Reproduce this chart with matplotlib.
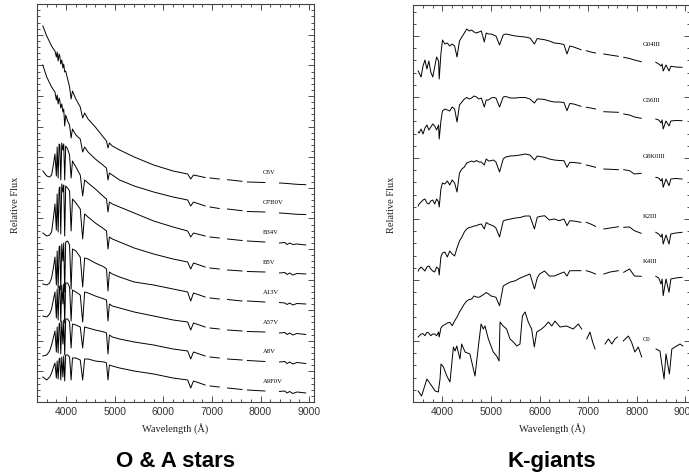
import numpy as np
import matplotlib
matplotlib.use("Agg")
import matplotlib.pyplot as plt
from matplotlib.ticker import MultipleLocator, NullFormatter

nan = np.nan

# ---- O & A stars: shared wavelength grid (nan = gap in the data) ----
LAM_OA = [3520, 3600, 3660, 3700, 3740, 3770,
          3798, 3815, 3835, 3855, 3870, 3889, 3910, 3933, 3950, 3970, 3990,
          4030, 4070, 4102, 4130, 4200, 4290, 4340, 4380, 4450,
          4600, 4780, 4830, 4861, 4890, 4950, 5100, 5400, 5800, 6200, 6500, 6563, 6620,
          6860, nan, 6960, 7150, nan, 7320, 7620, nan, 7730, 8090, nan,
          8390, 8500, 8545, 8600, 8665, 8750, 8930]

O5V = [376, 366, 360, 356, 353, 351,
       345, 350, 341, 348, 346, 338, 342, 334, 338, 330, 331,
       323, 315, 303, 311, 303, 295, 284, 289, 283,
       275, 264, 261, 254, 259, 256, 252, 245, 237, 231, 228, 223, 227,
       224.5, nan, 224, 223, nan, 222.3, 220.7, nan, 220, 219.5, nan,
       219, 218.7, 218.5, 218.3, 218, 217.7, 217.3]
O7B0V = [337, 325, 319, 315, 312, 310,
         302, 307, 298, 304, 301, 294, 298, 290, 293, 276, 287,
         281, 277, 264, 273, 267, 263, 250, 255, 250,
         243, 236, 234, 222, 229, 227, 222, 216, 210, 205, 202, 196, 200,
         196, nan, 195, 193.5, nan, 193, 191.3, nan, 190.5, 190, nan,
         189, 188.7, 188.5, 188.3, 188, 187.7, 187.5]
B34V = [231, 226, 225, 227, 238, 248,
        226, 255, 224, 258, 257, 222, 259, 252, 258, 222, 256,
        253, 247, 224, 241, 235, 227, 206, 222, 219,
        213, 205, 203, 190, 200, 198, 195, 189, 181, 175, 171, 165, 169,
        166, nan, 165, 164, nan, 163, 161.5, nan, 161, 160, nan,
        159, 159.5, 157.5, 159, 157.5, 158, 157]
B5V = [169, 166, 167, 170, 185, 198,
       172, 208, 170, 213, 215, 168, 218, 210, 217, 166, 216,
       214, 211, 171, 203, 199, 193, 163, 188, 185,
       179, 173, 171, 153, 165, 163, 160, 154, 148, 143, 140, 133, 139,
       135, nan, 134, 133, nan, 132, 131, nan, 130.5, 130, nan,
       129, 129.5, 127.5, 129, 127, 128.5, 128]
A13V = [118, 117, 119, 124, 135, 145,
        117, 151, 114, 155, 156, 112, 158, 141, 159, 110, 160,
        161, 157, 113, 153, 151, 145, 115, 144, 143,
        139, 135, 133, 111, 130, 128, 125, 120, 117, 113, 110, 101, 109,
        105, nan, 104, 103, nan, 102.5, 101, nan, 101, 100, nan,
        99.5, 99, 97.5, 99, 97, 98.5, 98]
A57V = [86, 85, 88, 93, 103, 110,
        84, 113, 82, 115, 116, 80, 117, 98, 118, 79, 119,
        119, 115, 81, 112, 110, 107, 80, 110, 109,
        106, 103, 102, 81, 98, 96, 94, 90, 86, 82, 80, 72, 79,
        75, nan, 74, 73, nan, 72, 71, nan, 70.5, 70, nan,
        69, 69.5, 67.5, 69, 67, 68.5, 67.5]
A8V = [46, 47, 51, 57, 65, 71,
       50, 75, 49, 78, 79, 48, 81, 58, 82, 47, 83,
       83, 80, 54, 78, 77, 75, 54, 75, 74,
       72, 70, 69, 48, 67, 65, 63, 60, 57, 53, 51, 43, 50,
       46, nan, 45, 44, nan, 43, 42, nan, 41.5, 40.5, nan,
       40, 40.5, 38.5, 40, 38, 39.5, 38.5]
A9F0V = [25, 22, 25, 29, 35, 39,
         24, 41, 23, 43, 44, 22, 45, 25, 46, 21, 47,
         47, 45, 22, 44, 44, 42, 22, 43, 43,
         41, 40, 39, 22, 37, 36, 34, 31, 28, 24, 22, 14, 21,
         17, nan, 16, 15, nan, 14, 12.5, nan, 12, 11, nan,
         10.5, 11, 9, 10.5, 8.5, 10, 9]

OA_NAMES = ["O5V", "O7B0V", "B34V", "B5V", "A13V", "A57V", "A8V", "A9F0V"]
OA_FLUX = [O5V, O7B0V, B34V, B5V, A13V, A57V, A8V, A9F0V]

# ---- K-giants: shared wavelength grid ----
LAM_GK = [3500, 3520, 3560, 3600, 3640, 3680, 3720, 3760, 3800, 3840, 3880, 3920, 3933, 3968,
          4000, 4050, 4100, 4150, 4200, 4250, 4300, 4350, 4400, 4450, 4500, 4550, 4600, 4650,
          4700, 4750, 4800,
          4861, 4900, 4950, 5000, 5050, 5100, 5175, 5250, 5300, 5400, 5500, 5600, 5700, 5800,
          5893, 5950, 6000,
          6100, 6200, 6300, 6400, 6500, 6563, 6620, 6700, 6850,
          nan, 6960, 7050, 7150, nan, 7320, 7450, 7620, nan, 7730, 7850, 7950, 8090, nan,
          8390, 8450, 8498, 8520, 8542, 8600, 8662, 8700, 8800, 8930]

G04III = [331, 329, 325, 336, 342, 333, 341, 330, 325, 335, 345, 341, 323, 348,
          362, 358, 359, 356, 358, 356, 345, 361, 365, 369, 373, 371, 372, 370, 369, 370, 371,
          360, 369, 368, 368, 367, 366, 357, 367, 368, 367, 366, 365.5, 365, 364, 358, 363.5, 363,
          362.3, 361, 359, 358.5, 357.5, 348, 356, 355, 352.3,
          nan, 351.3, 350, 349, nan, 348, 347, 345.7, nan, 344.7, 343.5, 342, 340.3, nan,
          339.7, 338, 336, 338, 331, 337, 331, 335.7, 335, 334.7]
G56III = [270, 269, 273, 268, 274, 277, 272, 275, 278, 276, 272, 277, 263, 281,
          291, 293, 292, 291, 295, 293, 280, 297, 300, 303, 304.5, 303, 304, 306, 305, 303, 304,
          295, 302, 302, 304, 304.5, 304, 295, 305, 305.5, 304, 304, 304.5, 304.5, 303, 299, 303, 303,
          302.5, 301, 300, 300, 299.5, 291.3, 298.5, 298, 295.7,
          nan, 294.7, 294, 293, nan, 290.3, 290, 289.7, nan, 288, 287, 285, 283.7, nan,
          283, 282, 279, 282, 273, 281, 276, 281, 281.5, 281.3]
G8K0III = [196, 198, 200, 202, 203, 199, 198, 201, 202, 198, 203, 200, 195, 213,
           219, 218, 221, 217, 222, 219, 210, 229, 233, 235, 239, 240, 241, 240, 241.5, 240, 240,
           237, 243, 241, 241.3, 242, 240, 230, 243, 245, 246, 246.3, 247, 248, 247, 242, 246, 245.5,
           244.7, 243, 242, 241.5, 241.3, 234.7, 239.7, 239.5, 238.7,
           nan, 237, 236, 234.7, nan, 233, 232.7, 232.3, nan, 232.3, 231.3, 228, 228.7, nan,
           224.7, 224, 221, 223.5, 214.7, 223, 216.3, 223, 223.5, 223]
K2III = [131, 133, 135, 133, 131, 135, 136, 133, 131, 130, 135, 133, 127, 145,
         149, 150, 145, 151, 148, 146, 154, 161, 165, 170, 173, 174.5, 175, 176, 176.3, 177.5, 178,
         173, 179.5, 178, 177, 176, 174, 165, 181, 182, 183, 184, 184.5, 186, 186, 173, 184.7, 185.5,
         186.3, 182, 183, 181.3, 183, 176.3, 181.3, 181, 179.7,
         nan, 179.7, 178, 175.7, nan, 173, 174, 175.3, nan, 174.7, 175, 171.3, 168.7, nan,
         169.7, 168, 165, 168, 158, 167, 158, 168, 169, 169.7]
K4III = [65, 66, 68, 68.3, 66.3, 69.7, 69, 66.3, 68, 68, 66.3, 70, 65, 74,
         76, 77.5, 79, 79.7, 76.3, 81, 85, 90, 94, 98, 101, 102.5, 103, 106, 105, 104.7, 106,
         108, 109.5, 108, 106, 105.5, 104.7, 96.3, 116, 117.5, 120, 121.3, 124, 126, 128, 113, 124, 128,
         131, 126, 126, 128, 130, 126, 131.3, 131.3, 131.3,
         nan, 131.3, 130, 128, nan, 128, 130, 131.3, nan, 129.7, 133, 126, 125.7, nan,
         125.7, 124, 118, 123, 106.3, 123, 109.7, 123, 124, 124.7]

# carbon star has its own sampling (Swan band heads)
LAM_C0 = [3500, 3570, 3680, 3780, 3850, 3915, 3950, 3970, 4020, 4090, 4155, 4225, 4260, 4295,
          4360, 4395, 4465, 4565, 4670, 4740, 4795, 4840, 4875, 4945, 5045, 5115, 5165, 5185,
          5250, 5320, 5390, 5460, 5530, 5595, 5645, 5700, 5765, 5835, 5890, 5940, 6040, 6110,
          6180, 6250, 6315, 6420, 6555, 6690, 6795, 6865,
          nan, 6970, 7035, 7090, 7140, nan, 7345, 7415, 7485, 7550, 7600, nan,
          7720, 7825, 7890, 7960, 8030, 8100, nan,
          8395, 8475, 8560, 8600, 8670, 8720, 8820, 8890, 8945]
C0 = [11, 6, 23, 16, 11, 10, 23, 38, 35, 26, 20, 55, 51, 56,
      43, 58, 50, 48, 26, 56, 78, 73, 76, 63, 50, 46, 41, 80,
      76, 73, 63, 60, 56, 58, 86, 90, 80, 73, 55, 70, 73, 76,
      80, 76, 81, 75, 76, 73, 78, 73,
      nan, 63, 70, 60, 53, nan, 58, 63, 58, 63, 65, nan,
      61, 66, 60, 50, 55, 45, nan,
      53, 51, 23, 48, 28, 53, 56, 58, 56]

GK_NAMES = ["G04III", "G56III", "G8K0III", "K2III", "K4III"]
GK_FLUX = [G04III, G56III, G8K0III, K2III, K4III]

# label anchors (wavelength, flux units of each panel)
OA_LABEL_X = 8050
OA_LABEL_Y = [230, 200, 170, 140, 110, 80, 51, 21]
GK_LABEL_X = 8130
GK_LABEL_Y = [358, 303, 246, 186, 141, 63]

W, H = 689, 477
SERIF = ["Liberation Serif", "DejaVu Serif"]
plt.rcParams["font.family"] = ["Liberation Sans", "DejaVu Sans"]

fig = plt.figure(figsize=(W / 100, H / 100), dpi=100)
ax1 = fig.add_axes([37 / W, 1 - 403 / H, 277 / W, 398 / H])
ax2 = fig.add_axes([413.3 / W, 1 - 403 / H, 277 / W, 397 / H])


def style_axes(ax, ystep, ymax):
    ax.set_xlim(3400, 9100)
    ax.set_ylim(0, ymax)
    ax.xaxis.set_major_locator(MultipleLocator(1000))
    ax.xaxis.set_minor_locator(MultipleLocator(200))
    ax.yaxis.set_major_locator(MultipleLocator(ystep))
    ax.yaxis.set_minor_locator(MultipleLocator(ystep / 5))
    ax.yaxis.set_major_formatter(NullFormatter())
    ax.tick_params(which="both", direction="in", top=True, right=True,
                   width=0.6, color="#333333", labelcolor="#333333")
    ax.tick_params(which="major", length=4)
    ax.tick_params(which="minor", length=2)
    ax.tick_params(axis="x", labelsize=7.5, pad=3)
    for s in ax.spines.values():
        s.set_linewidth(0.8)
        s.set_color("#444444")


style_axes(ax1, 30.6, 398)
style_axes(ax2, 61, 397)

for name, flux, ly in zip(OA_NAMES, OA_FLUX, OA_LABEL_Y):
    ax1.plot(LAM_OA, flux, color="black", lw=0.7)
    ax1.text(OA_LABEL_X, ly, name, fontsize=4.8, family=SERIF, va="center", ha="left")

for name, flux, ly in zip(GK_NAMES, GK_FLUX, GK_LABEL_Y):
    ax2.plot(LAM_GK, flux, color="black", lw=0.7)
    ax2.text(GK_LABEL_X, ly, name, fontsize=4.8, family=SERIF, va="center", ha="left")
ax2.plot(LAM_C0, C0, color="black", lw=0.7)
ax2.text(GK_LABEL_X, GK_LABEL_Y[-1], "C0", fontsize=4.8, family=SERIF, va="center", ha="left")

for cx in (175.5, 551.8):
    fig.text(cx / W, 1 - 429 / H, "Wavelength (Å)", fontsize=7.5, family=SERIF,
             ha="center", va="center", color="#222222")
for cx in (15, 391.7):
    fig.text(cx / W, 1 - 205 / H, "Relative Flux", fontsize=7.5, family=SERIF,
             rotation=90, ha="center", va="center", color="#222222")

fig.text(175.8 / W, 1 - 461.7 / H, "O & A stars", fontsize=16, weight="bold",
         ha="center", va="center")
fig.text(551.7 / W, 1 - 461.7 / H, "K-giants", fontsize=16, weight="bold",
         ha="center", va="center")

fig.savefig("out.png", dpi=100)
